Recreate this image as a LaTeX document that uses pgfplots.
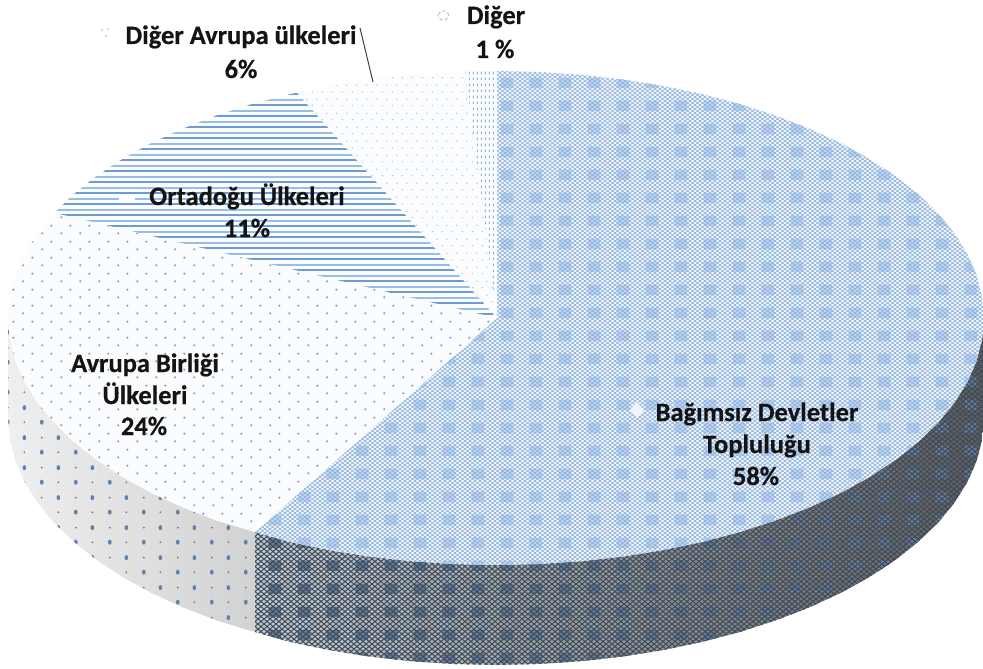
\documentclass[border=0pt]{standalone}
\usepackage{fontspec}
\setmainfont[BoldFeatures={FakeBold=0.5}]{Carlito}
\usepackage{pgfplots}
\usepackage{pgfplotstable}
\pgfplotsset{compat=1.18}
\usetikzlibrary{patterns}

% fine diagonal lattice
\pgfdeclarepatternformonly{lattice}{\pgfpoint{-1pt}{-1pt}}{\pgfpoint{6pt}{5pt}}{\pgfpoint{5pt}{4pt}}{
  \pgfsetlinewidth{0.55pt}
  \pgfpathmoveto{\pgfpoint{0pt}{0pt}}\pgfpathlineto{\pgfpoint{5pt}{4pt}}
  \pgfpathmoveto{\pgfpoint{0pt}{4pt}}\pgfpathlineto{\pgfpoint{5pt}{0pt}}
  \pgfusepath{stroke}}
% larger lattice for the wall
\pgfdeclarepatternformonly{latticeB}{\pgfpoint{-1pt}{-1pt}}{\pgfpoint{7pt}{6pt}}{\pgfpoint{6pt}{5pt}}{
  \pgfsetlinewidth{1pt}
  \pgfpathmoveto{\pgfpoint{0pt}{0pt}}\pgfpathlineto{\pgfpoint{6pt}{5pt}}
  \pgfpathmoveto{\pgfpoint{0pt}{5pt}}\pgfpathlineto{\pgfpoint{6pt}{0pt}}
  \pgfusepath{stroke}}
% moire blocks
\pgfdeclarepatternformonly{blocks}{\pgfpoint{0pt}{0pt}}{\pgfpoint{29pt}{23pt}}{\pgfpoint{29pt}{23pt}}{
  \pgfpathrectangle{\pgfpoint{8pt}{6pt}}{\pgfpoint{13pt}{11pt}}
  \pgfusepath{fill}}
% staggered dots
\pgfdeclarepatternformonly{dotsA}{\pgfpoint{0pt}{0pt}}{\pgfpoint{19pt}{16pt}}{\pgfpoint{19pt}{16pt}}{
  \pgfpathcircle{\pgfpoint{4.5pt}{4pt}}{1.25pt}
  \pgfpathcircle{\pgfpoint{14pt}{12pt}}{1.25pt}
  \pgfusepath{fill}}
\pgfdeclarepatternformonly{dotsB}{\pgfpoint{0pt}{0pt}}{\pgfpoint{10pt}{14pt}}{\pgfpoint{10pt}{14pt}}{
  \pgfpathcircle{\pgfpoint{2.5pt}{3.5pt}}{0.8pt}
  \pgfpathcircle{\pgfpoint{7.5pt}{10.5pt}}{0.8pt}
  \pgfusepath{fill}}
\pgfdeclarepatternformonly{dotsC}{\pgfpoint{0pt}{0pt}}{\pgfpoint{34pt}{30pt}}{\pgfpoint{34pt}{30pt}}{
  \pgfpathellipse{\pgfpoint{8pt}{7pt}}{\pgfpoint{1.9pt}{0pt}}{\pgfpoint{0pt}{2.6pt}}
  \pgfpathellipse{\pgfpoint{25pt}{22pt}}{\pgfpoint{1.9pt}{0pt}}{\pgfpoint{0pt}{2.6pt}}
  \pgfpathcircle{\pgfpoint{25pt}{7pt}}{1.1pt}
  \pgfpathcircle{\pgfpoint{8pt}{22pt}}{1.1pt}
  \pgfusepath{fill}}
% stripes
\pgfdeclarepatternformonly{stripeA}{\pgfpoint{-1pt}{0pt}}{\pgfpoint{11pt}{11pt}}{\pgfpoint{10pt}{11pt}}{
  \pgfpathrectangle{\pgfpoint{-1pt}{2pt}}{\pgfpoint{12pt}{1.9pt}}
  \pgfusepath{fill}}
\pgfdeclarepatternformonly{stripeB}{\pgfpoint{-1pt}{0pt}}{\pgfpoint{11pt}{11pt}}{\pgfpoint{10pt}{11pt}}{
  \pgfpathrectangle{\pgfpoint{-1pt}{7.4pt}}{\pgfpoint{12pt}{1.7pt}}
  \pgfusepath{fill}}
% dashes for the 1% slice
\pgfdeclarepatternformonly{dash}{\pgfpoint{0pt}{0pt}}{\pgfpoint{4pt}{6pt}}{\pgfpoint{4pt}{6pt}}{
  \pgfpathrectangle{\pgfpoint{1pt}{1pt}}{\pgfpoint{1.2pt}{3pt}}
  \pgfusepath{fill}}

\definecolor{latcol}{HTML}{90B2DB}
\definecolor{blkcol}{HTML}{BCD5F1}
\definecolor{stripe}{HTML}{6E9BD0}
\definecolor{stripel}{HTML}{98BDE6}
\definecolor{dotA}{HTML}{8CA1BC}
\definecolor{dotB}{HTML}{B3BECC}
\definecolor{dotC}{HTML}{5F82AE}
\definecolor{wallLa}{HTML}{C3CFDC}
\definecolor{wallLb}{HTML}{5A5E63}
\definecolor{wallLat}{HTML}{424A54}
\definecolor{wallBlk}{HTML}{5F7C9E}
\definecolor{wallGa}{HTML}{EFEFEF}
\definecolor{wallGb}{HTML}{D2D2D2}
\definecolor{topbg}{HTML}{FAFCFE}
\definecolor{topbgA}{HTML}{F0F6FC}

\pgfplotstableread{
x y
497 318
497 71
538.5 72.0
580.7 74.8
622.3 79.4
662.9 85.9
702.2 94.1
740 104.1
775.9 115.7
809.7 128.8
841.1 143.3
869.8 159.2
895.8 176.3
918.6 194.5
938.3 213.6
954.6 233.5
967.4 254.1
976.6 275.1
982.1 296.5
984 318
982.1 339.5
976.6 360.9
967.4 381.9
954.6 402.5
938.3 422.4
918.6 441.5
895.8 459.7
869.8 476.8
841.1 492.7
809.7 507.2
775.9 520.3
740 531.9
702.2 541.9
662.9 550.1
622.3 556.6
580.7 561.2
538.5 564.0
496 565
453.5 564.0
411.3 561.2
369.7 556.6
329.1 550.1
289.8 541.9
255 532
}\sliceA
\pgfplotstableread{
x y
497 318
255 532
216.1 520.3
182.3 507.2
150.9 492.7
122.2 476.8
96.2 459.7
73.4 441.5
53.7 422.4
37.4 402.5
24.6 381.9
15.4 360.9
9.9 339.5
8 318
9.9 296.5
15.4 275.1
24.6 254.1
37.4 233.5
54.5 212.8
}\sliceB
\pgfplotstableread{
x y
497 318
54.5 212.8
73.4 194.5
96.2 176.3
122.2 159.2
150.9 143.3
182.3 128.8
216.1 115.7
252 104.1
297 92.5
}\sliceC
\pgfplotstableread{
x y
497 318
297 92.5
329.1 85.9
369.7 79.4
411.3 74.8
453.5 72.0
465.4 71.5
}\sliceD
\pgfplotstableread{
x y
497 318
465.4 71.5
497 71
}\sliceE
\pgfplotstableread{
x y
984 318
982.1 339.5
976.6 360.9
967.4 381.9
954.6 402.5
938.3 422.4
918.6 441.5
895.8 459.7
869.8 476.8
841.1 492.7
809.7 507.2
775.9 520.3
740 531.9
702.2 541.9
662.9 550.1
622.3 556.6
580.7 561.2
538.5 564.0
496 565
453.5 564.0
411.3 561.2
369.7 556.6
329.1 550.1
289.8 541.9
255 532
255 632
289.8 641.9
329.1 650.1
369.7 656.6
411.3 661.2
453.5 664.0
496 665
538.5 664.0
580.7 661.2
622.3 656.6
662.9 650.1
702.2 641.9
740 631.9
775.9 620.3
809.7 607.2
841.1 592.7
869.8 576.8
895.8 559.7
918.6 541.5
938.3 522.4
954.6 502.5
967.4 481.9
976.6 460.9
982.1 439.5
984 418
}\wallA
\pgfplotstableread{
x y
255 532
216.1 520.3
182.3 507.2
150.9 492.7
122.2 476.8
96.2 459.7
73.4 441.5
53.7 422.4
37.4 402.5
24.6 381.9
15.4 360.9
9.9 339.5
8 318
8 418
9.9 439.5
15.4 460.9
24.6 481.9
37.4 502.5
53.7 522.4
73.4 541.5
96.2 559.7
122.2 576.8
150.9 592.7
182.3 607.2
216.1 620.3
255 632
}\wallB

\newcommand\lab[3]{\node[anchor=base,inner sep=0pt,text=black!92] at (axis cs:#1,#2) {\fontsize{26.5}{30}\selectfont\bfseries #3};}

\begin{document}
\begin{tikzpicture}
\path[use as bounding box] (0,0) rectangle (983pt,669pt);
\begin{axis}[
  at={(0,0)}, anchor=south west,
  scale only axis, width=983pt, height=669pt,
  xmin=0, xmax=983, ymin=0, ymax=669, y dir=reverse,
  hide axis,
  every axis plot/.append style={forget plot}
]
% side walls
\addplot[draw=none,left color=wallGa,right color=wallGb] table {\wallB};
\addplot[draw=none,pattern=dotsC,pattern color=dotC] table {\wallB};
\addplot[draw=none,left color=wallLa,right color=wallLb] table {\wallA};
\addplot[draw=none,pattern=blocks,pattern color=wallBlk] table {\wallA};
\addplot[draw=none,pattern=latticeB,pattern color=wallLat] table {\wallA};
% top: 58 %
\addplot[draw=none,fill=topbgA] table {\sliceA};
\addplot[draw=none,pattern=blocks,pattern color=blkcol] table {\sliceA};
\addplot[draw=none,pattern=lattice,pattern color=latcol] table {\sliceA};
% top: 24 %
\addplot[draw=none,fill=topbg] table {\sliceB};
\addplot[draw=none,pattern=dotsA,pattern color=dotA] table {\sliceB};
% top: 11 %
\addplot[draw=none,fill=topbg] table {\sliceC};
\addplot[draw=none,pattern=stripeA,pattern color=stripe] table {\sliceC};
\addplot[draw=none,pattern=stripeB,pattern color=stripel] table {\sliceC};
% top: 6 %
\addplot[draw=none,fill=topbg] table {\sliceD};
\addplot[draw=none,pattern=dotsB,pattern color=dotB] table {\sliceD};
% top: 1 %
\addplot[draw=none,fill=topbg] table {\sliceE};
\addplot[draw=none,pattern=dash,pattern color=latcol] table {\sliceE};
% legend keys
\addplot[draw=none,fill=white] coordinates {(119,189) (135,189) (135,204) (119,204)};
\addplot[draw=none,pattern=stripeA,pattern color=stripe] coordinates {(119,189) (135,189) (135,204) (119,204)};
\addplot[draw=none,fill=topbgA] coordinates {(630,410) (637,402) (644,410) (637,418)};
\addplot[latcol!70,line width=1pt,dash pattern=on 4pt off 2pt] coordinates {(438,15) (441,11) (446,11) (449,15) (446,20) (441,20) (438,15)};
\addplot[only marks,mark=*,mark size=0.7pt,color=dotB] coordinates {(102,30) (106,36) (108,29)};
% leader line
\addplot[black!75,line width=1pt] coordinates {(360,28) (373,82)};
% labels
\lab{496}{24}{Diğer}
\lab{495}{58}{1 \%}
\lab{241}{44}{Diğer Avrupa ülkeleri}
\lab{241}{78}{6\%}
\lab{247}{205}{Ortadoğu Ülkeleri}
\lab{247}{237}{11\%}
\lab{145}{372}{Avrupa Birliği}
\lab{145}{404}{Ülkeleri}
\lab{144}{435}{24\%}
\lab{757}{421}{Bağımsız Devletler}
\lab{757}{453}{Topluluğu}
\lab{756}{485}{58\%}
\end{axis}
\end{tikzpicture}
\end{document}
